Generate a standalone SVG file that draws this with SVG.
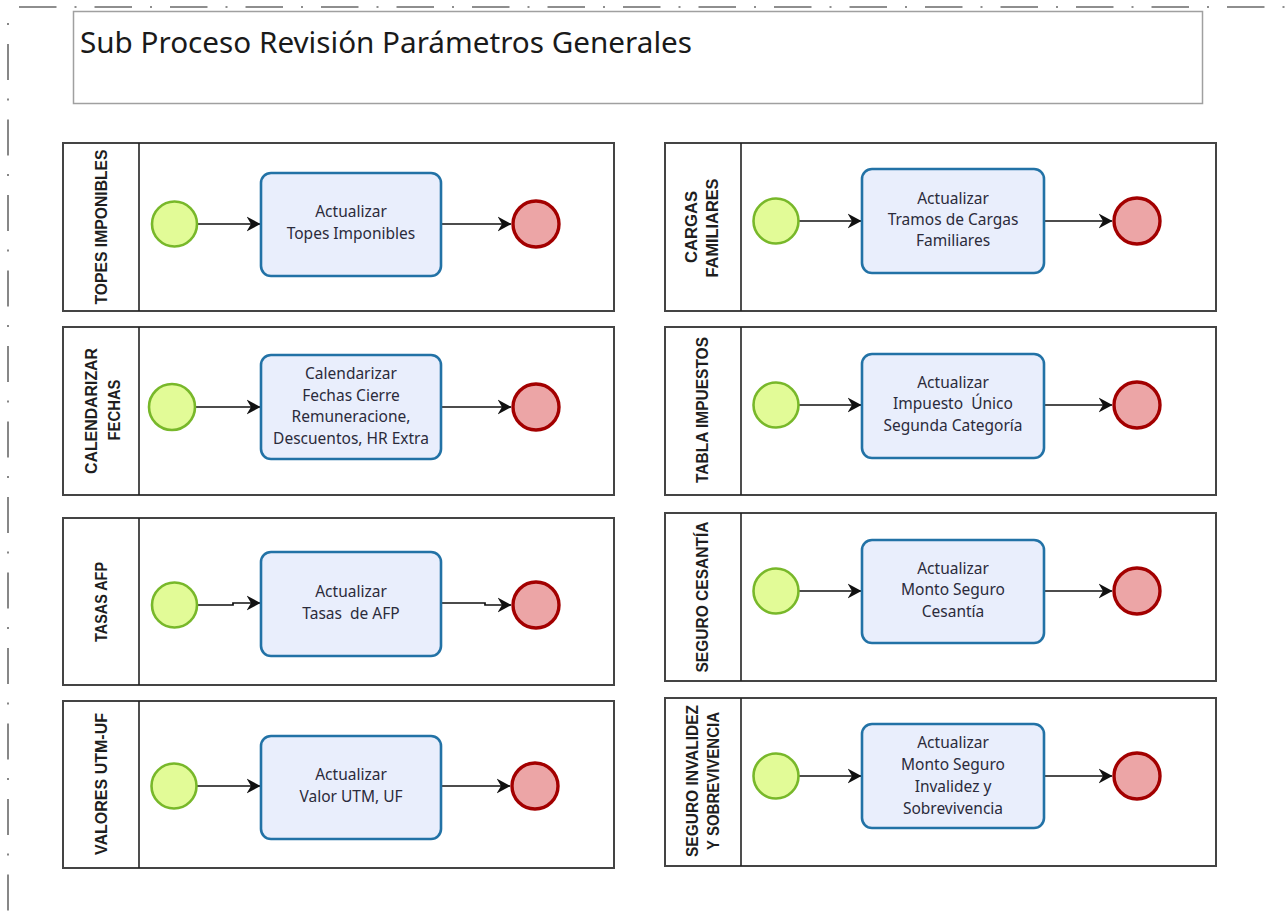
<svg xmlns="http://www.w3.org/2000/svg" width="1286" height="922" viewBox="0 0 1286 922">
<style>
.frame{fill:none;stroke:#6a6a6a;stroke-width:1.6}
.pool{fill:#fff;stroke:#444;stroke-width:2}
.div{stroke:#222;stroke-width:1.6}
.lbl{font-family:"Liberation Sans",Arial,sans-serif;font-weight:bold;font-size:16px;fill:#1e1e1e;text-anchor:middle}
.task{fill:#e9eefc;stroke:#2272a6;stroke-width:2.6}
.tt{font-family:"Noto Sans","Open Sans",sans-serif;font-size:15.5px;fill:#2b2b3b;text-anchor:middle;white-space:pre}
.start{fill:#e2fb97;stroke:#78b82a;stroke-width:2.6}
.end{fill:#eca5a6;stroke:#a30000;stroke-width:3.4}
.conn{fill:none;stroke:#111;stroke-width:1.7;marker-end:url(#arr)}
</style>
<defs>
<marker id="arr" viewBox="0 0 14 16" refX="13.5" refY="8" markerWidth="14" markerHeight="16" markerUnits="userSpaceOnUse" orient="auto">
<path d="M0,0.5 L14,8 L0,15.5 L4.5,8 Z" fill="#111"/>
</marker>
</defs>
<rect width="1286" height="922" fill="#fff"/>
<g id="border">
<line class="frame" x1="19" y1="7" x2="1286" y2="7" stroke-dasharray="37.5 18 2 18"/>
<line class="frame" x1="8" y1="23" x2="8" y2="922" stroke-dasharray="2 19 36 18.5"/>
</g>
<g id="title">
<rect x="73.5" y="11.5" width="1129" height="92" fill="#fff" stroke="#a0a0a0" stroke-width="1.5"/>
<text x="80" y="53" font-family="Noto Sans,Open Sans,sans-serif" font-size="28.5" fill="#1a1a1a" textLength="612" lengthAdjust="spacingAndGlyphs">Sub Proceso Revisión Parámetros Generales</text>
</g>
<!-- pools -->
<g id="pool-topes">
<rect class="pool" x="63" y="143" width="551" height="168"/><line class="div" x1="139" y1="143" x2="139" y2="311"/>
<text class="lbl" transform="translate(107,227) rotate(-90)" textLength="155" lengthAdjust="spacingAndGlyphs">TOPES IMPONIBLES</text>
</g>
<g id="pool-calendarizar">
<rect class="pool" x="63" y="327" width="551" height="168"/><line class="div" x1="139" y1="327" x2="139" y2="495"/>
<text class="lbl" transform="translate(97,411) rotate(-90)" textLength="126" lengthAdjust="spacingAndGlyphs">CALENDARIZAR</text>
<text class="lbl" transform="translate(120,410) rotate(-90)" textLength="61" lengthAdjust="spacingAndGlyphs">FECHAS</text>
</g>
<g id="pool-afp">
<rect class="pool" x="63" y="518" width="551" height="167"/><line class="div" x1="139" y1="518" x2="139" y2="685"/>
<text class="lbl" transform="translate(107,602) rotate(-90)" textLength="80" lengthAdjust="spacingAndGlyphs">TASAS AFP</text>
</g>
<g id="pool-utm">
<rect class="pool" x="63" y="701" width="551" height="167"/><line class="div" x1="139" y1="701" x2="139" y2="868"/>
<text class="lbl" transform="translate(107,784) rotate(-90)" textLength="142" lengthAdjust="spacingAndGlyphs">VALORES UTM-UF</text>
</g>
<g id="pool-cargas">
<rect class="pool" x="665" y="143" width="551" height="168"/><line class="div" x1="741" y1="143" x2="741" y2="311"/>
<text class="lbl" transform="translate(697,227) rotate(-90)" textLength="72" lengthAdjust="spacingAndGlyphs">CARGAS</text>
<text class="lbl" transform="translate(718,228) rotate(-90)" textLength="99" lengthAdjust="spacingAndGlyphs">FAMILIARES</text>
</g>
<g id="pool-impuestos">
<rect class="pool" x="665" y="327" width="551" height="168"/><line class="div" x1="741" y1="327" x2="741" y2="495"/>
<text class="lbl" transform="translate(708,410) rotate(-90)" textLength="146" lengthAdjust="spacingAndGlyphs">TABLA IMPUESTOS</text>
</g>
<g id="pool-cesantia">
<rect class="pool" x="665" y="513" width="551" height="168"/><line class="div" x1="741" y1="513" x2="741" y2="681"/>
<text class="lbl" transform="translate(708,597) rotate(-90)" textLength="151" lengthAdjust="spacingAndGlyphs">SEGURO CESANTÍA</text>
</g>
<g id="pool-invalidez">
<rect class="pool" x="665" y="698" width="551" height="168"/><line class="div" x1="741" y1="698" x2="741" y2="866"/>
<text class="lbl" transform="translate(698,781) rotate(-90)" textLength="152" lengthAdjust="spacingAndGlyphs">SEGURO INVALIDEZ</text>
<text class="lbl" transform="translate(719,781) rotate(-90)" textLength="138" lengthAdjust="spacingAndGlyphs">Y SOBREVIVENCIA</text>
</g>
<!-- connectors -->
<g id="connectors">
<path class="conn" d="M197,224 H260"/>
<path class="conn" d="M441,224 H511"/>
<path class="conn" d="M195,407 H260"/>
<path class="conn" d="M441,407 H511"/>
<path class="conn" d="M197,605 H233 V603 H260"/>
<path class="conn" d="M441,603 H485 V605 H511"/>
<path class="conn" d="M197,786 H260"/>
<path class="conn" d="M441,786 H510"/>
<path class="conn" d="M799,221 H861"/>
<path class="conn" d="M1044,221 H1112"/>
<path class="conn" d="M799,405 H861"/>
<path class="conn" d="M1044,405 H1112"/>
<path class="conn" d="M799,591 H861"/>
<path class="conn" d="M1044,591 H1112"/>
<path class="conn" d="M799,776 H861"/>
<path class="conn" d="M1044,776 H1112"/>
</g>
<!-- events and tasks -->
<g id="start-topes"><circle class="start" cx="174.5" cy="224" r="22.5"/></g>
<g id="task-topes"><rect class="task" x="261" y="173" width="180" height="103" rx="10"/>
<text class="tt" x="351" y="217">Actualizar</text><text class="tt" x="351" y="239">Topes Imponibles</text></g>
<g id="end-topes"><circle class="end" cx="536" cy="224" r="23"/></g>

<g id="start-calendarizar"><circle class="start" cx="172" cy="407" r="23"/></g>
<g id="task-calendarizar"><rect class="task" x="261" y="355" width="180" height="104" rx="10"/>
<text class="tt" x="351" y="379">Calendarizar</text><text class="tt" x="351" y="400.5">Fechas Cierre</text><text class="tt" x="351" y="422">Remuneracione,</text><text class="tt" x="351" y="443.5">Descuentos, HR Extra</text></g>
<g id="end-calendarizar"><circle class="end" cx="536" cy="407" r="23"/></g>

<g id="start-afp"><circle class="start" cx="174.5" cy="605" r="22.5"/></g>
<g id="task-afp"><rect class="task" x="261" y="552" width="180" height="104" rx="10"/>
<text class="tt" x="351" y="597">Actualizar</text><text class="tt" x="351" y="619">Tasas  de AFP</text></g>
<g id="end-afp"><circle class="end" cx="536" cy="605" r="23"/></g>

<g id="start-utm"><circle class="start" cx="174" cy="786" r="22.5"/></g>
<g id="task-utm"><rect class="task" x="261" y="736" width="180" height="103" rx="10"/>
<text class="tt" x="351" y="780">Actualizar</text><text class="tt" x="351" y="802">Valor UTM, UF</text></g>
<g id="end-utm"><circle class="end" cx="535" cy="786" r="23"/></g>

<g id="start-cargas"><circle class="start" cx="776" cy="221" r="22.5"/></g>
<g id="task-cargas"><rect class="task" x="862" y="169" width="182" height="104" rx="10"/>
<text class="tt" x="953" y="204">Actualizar</text><text class="tt" x="953" y="225">Tramos de Cargas</text><text class="tt" x="953" y="246">Familiares</text></g>
<g id="end-cargas"><circle class="end" cx="1137" cy="221" r="23"/></g>

<g id="start-impuestos"><circle class="start" cx="776" cy="405" r="22.5"/></g>
<g id="task-impuestos"><rect class="task" x="862" y="354" width="182" height="104" rx="10"/>
<text class="tt" x="953" y="388">Actualizar</text><text class="tt" x="953" y="409">Impuesto  Único</text><text class="tt" x="953" y="431">Segunda Categoría</text></g>
<g id="end-impuestos"><circle class="end" cx="1137" cy="405" r="23"/></g>

<g id="start-cesantia"><circle class="start" cx="776" cy="591" r="22.5"/></g>
<g id="task-cesantia"><rect class="task" x="862" y="540" width="182" height="103" rx="10"/>
<text class="tt" x="953" y="574">Actualizar</text><text class="tt" x="953" y="595">Monto Seguro</text><text class="tt" x="953" y="617">Cesantía</text></g>
<g id="end-cesantia"><circle class="end" cx="1137" cy="591" r="23"/></g>

<g id="start-invalidez"><circle class="start" cx="776" cy="776" r="22.5"/></g>
<g id="task-invalidez"><rect class="task" x="862" y="724" width="182" height="104" rx="10"/>
<text class="tt" x="953" y="748">Actualizar</text><text class="tt" x="953" y="770">Monto Seguro</text><text class="tt" x="953" y="792">Invalidez y</text><text class="tt" x="953" y="814">Sobrevivencia</text></g>
<g id="end-invalidez"><circle class="end" cx="1137" cy="776" r="23"/></g>
</svg>
